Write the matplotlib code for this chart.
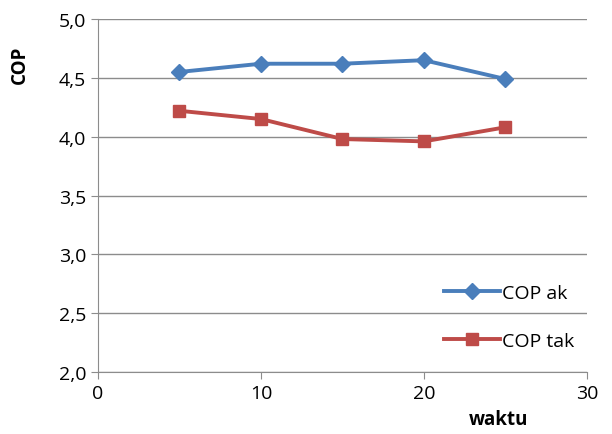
import matplotlib.pyplot as plt
from matplotlib.ticker import FuncFormatter

waktu = [5, 10, 15, 20, 25]
cop_ak = [4.55, 4.62, 4.62, 4.65, 4.49]
cop_tak = [4.22, 4.15, 3.98, 3.96, 4.08]

plt.rcParams['font.family'] = ['Open Sans', 'DejaVu Sans']

fig = plt.figure(figsize=(6.12, 4.35), dpi=100)
ax = fig.add_axes([0.160, 0.1425, 0.799, 0.8115])

ax.plot(waktu, cop_ak, color='#4a7ebb', lw=2.8, marker='D', ms=8, label='COP ak')
ax.plot(waktu, cop_tak, color='#be4b48', lw=2.8, marker='s', ms=9, label='COP tak')

ax.set_xlim(0, 30)
ax.set_ylim(2.0, 5.0)
ax.set_xticks([0, 10, 20, 30])
ax.set_yticks([2.0, 2.5, 3.0, 3.5, 4.0, 4.5, 5.0])
ax.yaxis.set_major_formatter(FuncFormatter(lambda v, p: ('%.1f' % v).replace('.', ',')))
ax.grid(axis='y', color='#8c8c8c', lw=1)
ax.set_axisbelow(True)
for s in ['top', 'right']:
    ax.spines[s].set_visible(False)
for s in ['left', 'bottom']:
    ax.spines[s].set_color('#8c8c8c')
ax.tick_params(colors='#8c8c8c', labelcolor='black', labelsize=14, length=5)

fig.text(0.033, 0.85, 'COP', rotation=90, fontsize=13.5, fontweight='bold', ha='center', va='center')
fig.text(0.815, 0.035, 'waktu', fontsize=13.5, fontweight='bold', ha='center', va='center')

ax.legend(loc='lower right', bbox_to_anchor=(1.01, 0.013), frameon=False, fontsize=14,
          handlelength=2.9, labelspacing=1.55, handletextpad=0.1)

fig.savefig('out.png', dpi=100)
